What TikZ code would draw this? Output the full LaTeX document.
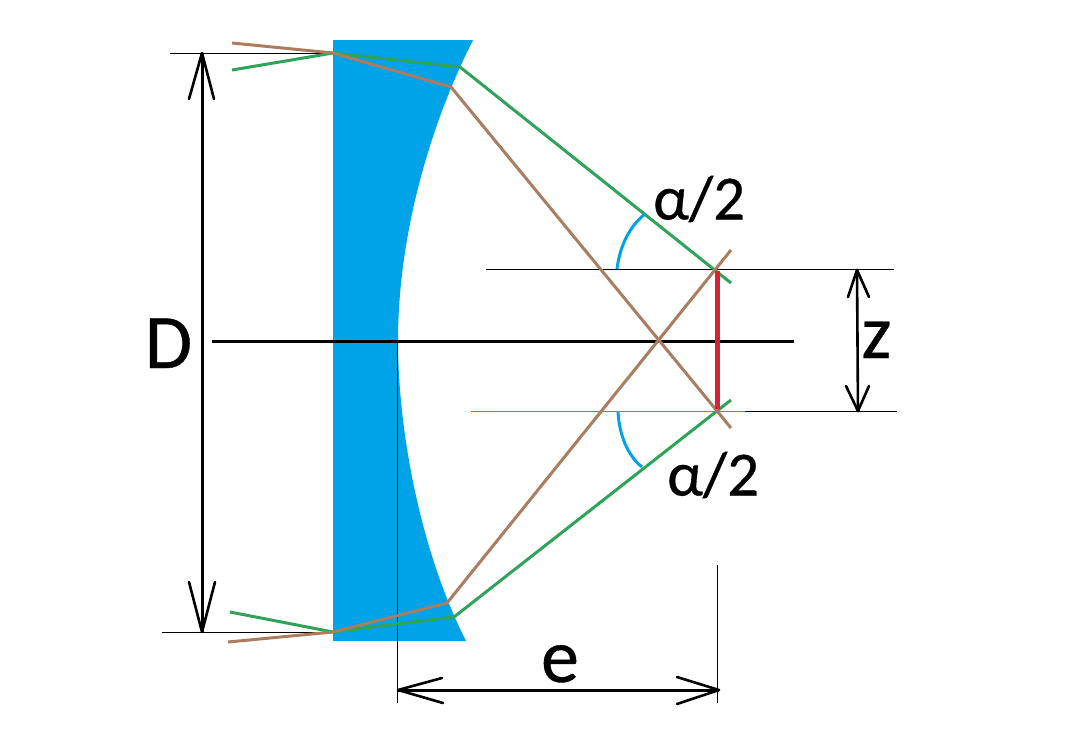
\documentclass[tikz,border=0pt]{standalone}
\usepackage{fontspec}
\setmainfont[FakeBold=0.5]{Carlito}
\definecolor{lens}{HTML}{00A2E8}
\definecolor{rayg}{HTML}{2FA35A}
\definecolor{rayb}{HTML}{AB7D60}
\definecolor{redl}{HTML}{DC2030}
\begin{document}
\begin{tikzpicture}[x=1pt,y=-1pt,line join=round,
  thin line/.style={black,line width=1pt},
  heavy/.style={black,line width=3pt},
  barb/.style={black,line width=2.6pt,line cap=round},
  ray/.style={line width=3pt},
  lbl/.style={inner sep=0pt,font=\fontsize{#1}{#1}\selectfont,text=black}]
\useasboundingbox (0,0) rectangle (1080,734);
\fill[white] (0,0) rectangle (1080,734);
\coordinate (TL) at (333,53); \coordinate (BL) at (333,632);
\coordinate (GT) at (460,67); \coordinate (BT) at (451,87);
\coordinate (GB) at (454,617); \coordinate (BB) at (447,603);
\coordinate (F1) at (717,269); \coordinate (F2) at (717,411);
% lens
\fill[lens] (333,40) -- (473,40) .. controls (430,125) and (398,235) .. (398,341)
  .. controls (398,430) and (420,550) .. (466,641) -- (333,641) -- cycle;
% thin lines
\coordinate (t1) at (170,53); \coordinate (t2) at (162,632);
\draw[thin line] (t1) -- (TL);
\draw[thin line] (t2) -- (BL);
\coordinate (h1a) at (486,269); \coordinate (h1b) at (894,269);
\coordinate (h2a) at (471,411); \coordinate (h2m) at (745,411); \coordinate (h2b) at (897,411);
\draw[thin line] (h1a) -- (h1b);
\draw[lens,line width=1pt] (h2a) -- (h2m);
\draw[thin line] (h2m) -- (h2b);
\coordinate (v1a) at (397,341); \coordinate (v1b) at (397,703);
\coordinate (v2a) at (717,565); \coordinate (v2b) at (717,703);
\draw[thin line] (v1a) -- (v1b);
\draw[thin line] (v2a) -- (v2b);
% axis
\coordinate (a1) at (212,341); \coordinate (a2) at (794,341);
\draw[heavy] (a1) -- (a2);
% rays
\coordinate (g1) at (232,70); \coordinate (g1e) at (731,283);
\coordinate (b1) at (232,43); \coordinate (b1e) at (731,428);
\coordinate (g2) at (230,612); \coordinate (g2e) at (731,400);
\coordinate (b2) at (228,642); \coordinate (b2e) at (731,250);
\draw[rayg,ray] (g1) -- (TL) -- (GT) -- (g1e);
\draw[rayg,ray] (g2) -- (BL) -- (GB) -- (g2e);
\draw[rayb,ray] (b1) -- (TL) -- (BT) -- (b1e);
\draw[rayb,ray] (b2) -- (BL) -- (BB) -- (b2e);
% image
\coordinate (r1) at (717,271); \coordinate (r2) at (717,409);
\draw[redl,line width=5pt] (r1) -- (r2);
% angle arcs
\coordinate (c1a) at (617,269); \coordinate (c1b) at (645,214);
\coordinate (c2a) at (618,411); \coordinate (c2b) at (642,467);
\draw[lens,line width=3pt] (c1a) .. controls (620,245) and (630,226) .. (c1b);
\draw[lens,line width=3pt] (c2a) .. controls (619,435) and (628,456) .. (c2b);
% D arrow
\coordinate (Dt) at (202,53); \coordinate (Db) at (202,632);
\draw[heavy] (Dt) -- (Db);
\draw[barb] (189,99) -- (Dt) -- (214,99);
\draw[barb] (189,582) -- (Db) -- (215,582);
% z arrow
\coordinate (zt) at (857,270); \coordinate (zb) at (858,411);
\draw[barb] (zt) -- (zb);
\draw[barb] (848,297) -- (zt) -- (869,297);
\draw[barb] (846,386) -- (zb) -- (869,386);
% e arrow
\coordinate (el) at (398,690); \coordinate (er) at (719,690);
\draw[heavy] (el) -- (er);
\draw[barb] (442,678) -- (el) -- (443,703);
\draw[barb] (677,677) -- (er) -- (677,704);
% labels
\node[lbl=77,anchor=base] (nD) at (168.5,368) {D};
\node[lbl=76,anchor=base] (nz) at (876.5,358) {z};
\node[lbl=76,anchor=base] (ne) at (560,682) {e};
\node[lbl=63,anchor=base west] (na1) at (653,219.5) {α/2};
\node[lbl=63,anchor=base west] (na2) at (667,495.5) {α/2};
\end{tikzpicture}
\end{document}
